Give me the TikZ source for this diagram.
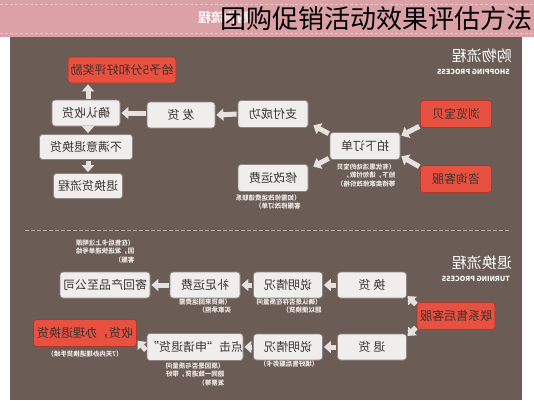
\documentclass[tikz,border=0pt]{standalone}
\usepackage{fontspec}
\usepackage{graphicx}
\setmainfont{Noto Sans CJK SC}
\usetikzlibrary{arrows.meta,calc}
\definecolor{panelc}{HTML}{6B5D56}
\definecolor{bandc}{HTML}{DBA1A6}
\definecolor{banddash}{HTML}{EBC3C6}
\definecolor{boxc}{HTML}{EFEEED}
\definecolor{boxedge}{HTML}{8F8682}
\definecolor{redc}{HTML}{E8513F}
\definecolor{rededge}{HTML}{A83A2E}
\definecolor{arrowc}{HTML}{E4E1DF}
\definecolor{notec}{HTML}{EEE8E4}
\definecolor{boxtext}{HTML}{3A3431}
\newcommand{\mir}[1]{\reflectbox{#1}}
\newcommand{\mirnote}[1]{\reflectbox{\fontsize{6.5}{8.5}\selectfont\begin{tabular}{@{}l@{}}#1\end{tabular}}}
\tikzset{
  wbox/.style={draw=boxedge, line width=0.8pt, fill=boxc, rounded corners=3pt,
    minimum height=26pt, inner sep=0pt, text=boxtext, font=\fontsize{12}{14}\selectfont},
  rbox/.style={draw=rededge, line width=0.8pt, fill=redc, rounded corners=3pt,
    minimum height=26pt, inner sep=0pt, text=boxtext, font=\fontsize{12}{14}\selectfont},
  note/.style={text=notec, inner sep=0pt, font=\bfseries},
  barrow/.style={draw=arrowc, line width=5pt, -{Triangle[width=12pt,length=7pt]},
    shorten <=1pt, shorten >=1pt},
  sechead/.style={text=white, inner sep=0pt},
}
\begin{document}
\begin{tikzpicture}[x=1pt,y=-1pt]
\useasboundingbox (0,0) rectangle (534,400);
% backgrounds
\fill[white] (0,0) rectangle (534,400);
\fill[panelc] (10,37) rectangle (522,400);
\fill[bandc] (0,0) rectangle (534,37);
\draw[banddash, line width=0.8pt, dash pattern=on 3pt off 2pt] (0,4) -- (534,4);
\draw[banddash, line width=0.8pt, dash pattern=on 3pt off 2pt] (0,33) -- (534,33);
\node[text=white, opacity=0.85, inner sep=0pt, font=\bfseries\fontsize{13}{14}\selectfont] (ghost) at (224,18) {\mir{购物流程}};
\node[anchor=west, inner sep=0pt, text=black, font=\fontsize{26}{28}\selectfont] (title) at (220,19) {团购促销活动效果评估方法};

% shopping section header
\node[sechead, anchor=east, font=\fontsize{15}{16}\selectfont] (shophead) at (512,56) {\mir{购物流程}};
\node[sechead, anchor=east, font=\bfseries\fontsize{7}{8}\selectfont] (shopsub) at (510,72) {\mir{SHOPPING PROCESS}};

% shopping nodes
\node[rbox, minimum width=108pt] (reward) at (122,70) {\mir{给予5分和好评奖励}};
\node[wbox, minimum width=68pt] (confirm) at (86,113) {\mir{确认收货}};
\node[wbox, minimum width=68pt] (ship) at (181,115) {\mir{发\ 货}};
\node[wbox, minimum width=70pt, minimum height=27pt] (pay) at (273,114) {\mir{支付成功}};
\node[wbox, minimum width=70pt, minimum height=27pt] (order) at (365,146) {\mir{拍下订单}};
\node[rbox, minimum width=71pt, minimum height=27pt] (browse) at (456,114) {\mir{浏览宝贝}};
\node[rbox, minimum width=71pt, minimum height=27pt] (consult) at (456,179) {\mir{咨询客服}};
\node[wbox, minimum width=70pt, minimum height=27pt] (modify) at (273,178) {\mir{修改运费}};
\node[wbox, minimum width=93pt, minimum height=25pt] (unhappy) at (86,147) {\mir{不满意退换货}};
\node[wbox, minimum width=69pt, minimum height=25pt] (retflow) at (88,186) {\mir{退换货流程}};

\node[note] (ordernote) at (366,176) {\mirnote{（有优惠活动的宝贝\\拍下，请勿付款，\\等待卖家修改价格）}};
\node[note] (modnote) at (268,203) {\mirnote{（如需修改运费请联系\\客服修改订单）}};

% shopping arrows
\draw[barrow] ([yshift=2pt]browse.south west) -- ([yshift=-4pt]order.north east);
\draw[barrow] ([yshift=-2pt]consult.north west) -- ([yshift=4pt]order.south east);
\draw[barrow] ([yshift=-2pt]order.north west) -- ([xshift=4pt,yshift=3pt]pay.south east);
\draw[barrow] ([yshift=2pt]order.south west) -- ([xshift=4pt,yshift=-3pt]modify.north east);
\draw[barrow] (pay.west) -- (ship.east);
\draw[barrow] ([yshift=2pt]ship.west) -- ([yshift=0pt]confirm.east);
\draw[barrow] ([xshift=2pt]confirm.north) -- ([xshift=2pt,yshift=0pt]confirm.north |- reward.south);
\draw[barrow] ([xshift=2pt]confirm.south) -- ([xshift=2pt]confirm.south |- unhappy.north);
\draw[barrow] ([xshift=2pt]unhappy.south -| confirm.south) -- ([xshift=2pt]confirm.south |- retflow.north);

% separator
\draw[color=boxedge!70!white, line width=0.8pt, dash pattern=on 4pt off 2pt] (25,230) coordinate (sepA) -- (510,230) coordinate (sepB);

% return section header
\node[sechead, anchor=east, font=\fontsize{15}{16}\selectfont] (rethead) at (512,263) {\mir{退换流程}};
\node[sechead, anchor=east, font=\bfseries\fontsize{7}{8}\selectfont] (retsub) at (510,279) {\mir{TURNING PROCESS}};

% return nodes
\node[rbox, minimum width=78pt, minimum height=27pt] (contact) at (456,316) {\mir{联系售后客服}};
\node[wbox, minimum width=69pt] (exch) at (372,285) {\mir{换\ 货}};
\node[wbox, minimum width=69pt] (ret) at (372,347) {\mir{退\ 货}};
\node[wbox, minimum width=69pt] (explainA) at (288,285) {\mir{说明情况}};
\node[wbox, minimum width=69pt] (explainB) at (288,347) {\mir{说明情况}};
\node[wbox, minimum width=70pt] (fee) at (205,285) {\mir{补足运费}};
\node[wbox, minimum width=90pt] (sendback) at (105,285) {\mir{寄回产品至公司}};
\node[wbox, minimum width=90pt, minimum height=27pt] (click) at (195,347) {\mir{点击“申请退货”}};
\node[rbox, minimum width=103pt, minimum height=27pt] (recv) at (85,333) {\mir{收货，办理退换货}};

\node[note] (sendnote) at (105,252) {\mirnote{（在售后卡上注明原\\因，发送快递单号给\\客服）}};
\node[note] (feenote) at (205,307) {\mirnote{（换货来回运费需\\买家承担）}};
\node[note] (explAnote) at (289,307) {\mirnote{（确认是否存在质量问\\题以便换货）}};
\node[note] (recvnote) at (85,355) {\mirnote{（7天内办理退换货手续）}};
\node[note] (explBnote) at (289,365) {\mirnote{（填好售后服务卡）}};
\node[note] (clicknote) at (195,375) {\mirnote{（原因是否与质量问\\题同一致退货，带好\\发票等）}};

% return arrows
\draw[barrow] ([yshift=-3pt]contact.north west) -- ([yshift=3pt]exch.south east);
\draw[barrow] ([yshift=3pt]contact.south west) -- ([yshift=-3pt]ret.north east);
\draw[barrow] (exch.west) -- (explainA.east);
\draw[barrow] (explainA.west) -- (fee.east);
\draw[barrow] (fee.west) -- (sendback.east);
\draw[barrow] (ret.west) -- (explainB.east);
\draw[barrow] (explainB.west) -- (click.east);
\draw[barrow] ([yshift=-4pt]click.west) -- ([yshift=-7pt]recv.east);
\end{tikzpicture}
\end{document}
